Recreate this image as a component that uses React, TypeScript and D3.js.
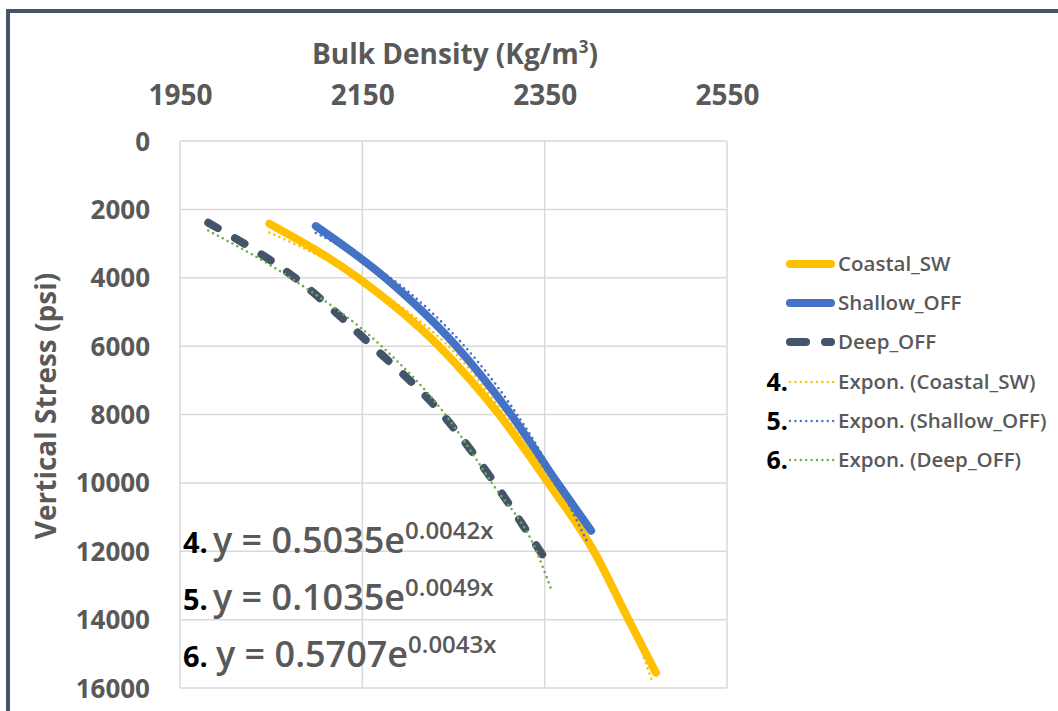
import React, { useEffect, useRef } from "react";
import * as d3 from "d3";

// Bulk density (kg/m3) vs vertical stress (psi)
const coastalDensity = [2048, 2145, 2234, 2300, 2354, 2404, 2442, 2472];
const coastalStress = [2420, 4000, 6000, 8000, 10000, 12000, 14000, 15550];

const shallowDensity = [2099, 2175, 2253, 2313, 2364, 2401];
const shallowStress = [2490, 4000, 6000, 8000, 10000, 11400];

const deepDensity = [1981, 2076, 2161, 2238, 2295, 2345, 2359];
const deepStress = [2390, 4000, 6000, 8000, 10000, 12000, 12550];

// exponential trendlines as drawn
const coastalTrendDensity = [2048, 2100, 2150, 2200, 2250, 2300, 2350, 2400, 2450, 2469];
const coastalTrendStress = [2680, 3330, 4100, 5000, 6150, 7800, 9700, 11900, 14500, 15880];

const shallowTrendDensity = [2099, 2150, 2200, 2250, 2300, 2350, 2398];
const shallowTrendStress = [2690, 3450, 4400, 5650, 7250, 9300, 11800];

const deepTrendDensity = [1981, 2071, 2171, 2241, 2292, 2341, 2358];
const deepTrendStress = [2620, 4000, 6000, 8000, 10000, 12000, 13180];

const xTicks = [1950, 2150, 2350, 2550];
const yTicks = [0, 2000, 4000, 6000, 8000, 10000, 12000, 14000, 16000];

const legendLabels = ["Coastal_SW", "Shallow_OFF", "Deep_OFF", "Expon. (Coastal_SW)", "Expon. (Shallow_OFF)", "Expon. (Deep_OFF)"];
const equationNumbers = ["4.", "5.", "6."];
const equationMain = ["y = 0.5035e", "y = 0.1035e", "y = 0.5707e"];
const equationPower = ["0.0042x", "0.0049x", "0.0043x"];

const FONT = "'Open Sans', 'DejaVu Sans', sans-serif";
const GREY = "#595959";

const App = () => {
    const ref = useRef<SVGSVGElement>(null);

    useEffect(() => {
        const svg = d3.select(ref.current);
        svg.selectAll("*").remove();

        const width = 1058;
        const height = 711;
        const left = 180, right = 727, top = 141, bottom = 688;

        svg.attr("width", width).attr("height", height);

        // background + frame
        svg.append("rect").attr("width", width).attr("height", height).attr("fill", "#ffffff");
        svg.append("rect")
            .attr("x", 8).attr("y", 11)
            .attr("width", 1100).attr("height", 800)
            .attr("fill", "none")
            .attr("stroke", "#44546A")
            .attr("stroke-width", 4);

        var x = d3.scaleLinear().domain([1950, 2550]).range([left, right]);
        var y = d3.scaleLinear().domain([0, 16000]).range([top, bottom]);

        // grid
        var grid = svg.append("g").attr("stroke", "#D9D9D9").attr("stroke-width", 1.5);
        xTicks.forEach(function (t) {
            grid.append("line").attr("x1", x(t)).attr("x2", x(t)).attr("y1", top).attr("y2", bottom);
        });
        yTicks.forEach(function (t) {
            grid.append("line").attr("x1", left).attr("x2", right).attr("y1", y(t)).attr("y2", y(t));
        });

        // x axis on top
        var xAxis = svg.append("g")
            .attr("transform", "translate(0," + (top - 33) + ")")
            .call(d3.axisTop(x).tickValues(xTicks).tickSize(0).tickFormat(d3.format("d")));
        xAxis.select(".domain").remove();
        xAxis.selectAll("text")
            .attr("fill", GREY).attr("font-family", FONT)
            .attr("font-size", 28).attr("font-weight", 700);

        var yAxis = svg.append("g")
            .attr("transform", "translate(" + (left - 27) + ",0)")
            .call(d3.axisLeft(y).tickValues(yTicks).tickSize(0).tickFormat(d3.format("d")));
        yAxis.select(".domain").remove();
        yAxis.selectAll("text")
            .attr("fill", GREY).attr("font-family", FONT)
            .attr("font-size", 26).attr("font-weight", 700)
            .attr("dy", "0.35em");

        // axis titles
        var xt = svg.append("text")
            .attr("x", 455).attr("y", 64)
            .attr("text-anchor", "middle")
            .attr("fill", GREY).attr("font-family", FONT)
            .attr("font-size", 28).attr("font-weight", 700);
        xt.append("tspan").text("Bulk Density (Kg/m");
        xt.append("tspan").attr("font-size", 17).attr("dy", -11).text("3");
        xt.append("tspan").attr("dy", 11).text(")");

        svg.append("text")
            .attr("transform", "translate(56,406) rotate(-90)")
            .attr("text-anchor", "middle")
            .attr("fill", GREY).attr("font-family", FONT)
            .attr("font-size", 28).attr("font-weight", 700)
            .text("Vertical Stress (psi)");

        var line = d3.line<number[]>()
            .x(function (d) { return x(d[0]); })
            .y(function (d) { return y(d[1]); })
            .curve(d3.curveMonotoneX);

        function pairs(a: number[], b: number[]) {
            return a.map(function (v, i) { return [v, b[i]]; });
        }

        // series
        svg.append("path").datum(pairs(coastalDensity, coastalStress))
            .attr("d", line).attr("fill", "none")
            .attr("stroke", "#FFC000").attr("stroke-width", 8).attr("stroke-linecap", "round");
        svg.append("path").datum(pairs(shallowDensity, shallowStress))
            .attr("d", line).attr("fill", "none")
            .attr("stroke", "#4472C4").attr("stroke-width", 8).attr("stroke-linecap", "round");
        svg.append("path").datum(pairs(deepDensity, deepStress))
            .attr("d", line).attr("fill", "none")
            .attr("stroke", "#44546A").attr("stroke-width", 8).attr("stroke-linecap", "round")
            .attr("stroke-dasharray", "11,20");

        // trendlines (dotted)
        var trends = [
            { d: pairs(coastalTrendDensity, coastalTrendStress), c: "#FFC000" },
            { d: pairs(shallowTrendDensity, shallowTrendStress), c: "#4472C4" },
            { d: pairs(deepTrendDensity, deepTrendStress), c: "#70AD47" },
        ];
        trends.forEach(function (t) {
            svg.append("path").datum(t.d)
                .attr("d", line).attr("fill", "none")
                .attr("stroke", t.c).attr("stroke-width", 2.6)
                .attr("stroke-linecap", "round")
                .attr("stroke-dasharray", "0,5.5");
        });

        // legend
        var legendColors = ["#FFC000", "#4472C4", "#44546A", "#FFC000", "#4472C4", "#70AD47"];
        var legendY = [264, 303, 342, 382, 421, 460];
        legendLabels.forEach(function (lab, i) {
            var g = svg.append("g").attr("transform", "translate(0," + legendY[i] + ")");
            var ln = g.append("line").attr("y1", 0).attr("y2", 0).attr("stroke", legendColors[i]);
            if (i < 3) {
                ln.attr("x1", 790).attr("x2", 831).attr("stroke-width", 8).attr("stroke-linecap", "round");
                if (i === 2) ln.attr("stroke-dasharray", "16,19");
            } else {
                ln.attr("x1", 790).attr("x2", 834).attr("stroke-width", 2.4)
                    .attr("stroke-linecap", "round").attr("stroke-dasharray", "0,5.4");
                g.append("text")
                    .attr("x", 788).attr("y", 9)
                    .attr("text-anchor", "end")
                    .attr("fill", "#000").attr("font-family", FONT)
                    .attr("font-size", 25).attr("font-weight", 700)
                    .text(equationNumbers[i - 3]);
            }
            g.append("text")
                .attr("x", 838).attr("y", 7)
                .attr("fill", GREY).attr("font-family", FONT)
                .attr("font-size", 20.5).attr("font-weight", 600)
                .text(lab);
        });

        // trendline equations
        var eqY = [553, 610, 667];
        var eqX = [213, 213, 216];
        equationMain.forEach(function (eq, i) {
            svg.append("text")
                .attr("x", 183).attr("y", eqY[i])
                .attr("fill", "#000").attr("font-family", FONT)
                .attr("font-size", 29).attr("font-weight", 700)
                .text(equationNumbers[i]);
            var t = svg.append("text")
                .attr("x", eqX[i]).attr("y", eqY[i])
                .attr("fill", GREY).attr("font-family", FONT)
                .attr("font-weight", 600);
            t.append("tspan").attr("font-size", 36).text(eq);
            t.append("tspan").attr("font-size", 24).attr("dy", -14).text(equationPower[i]);
        });
    }, []);

    return (
        <div style={{ position: "absolute", left: 0, top: 0 }}>
            <svg ref={ref}></svg>
        </div>
    );
};

export default App;
